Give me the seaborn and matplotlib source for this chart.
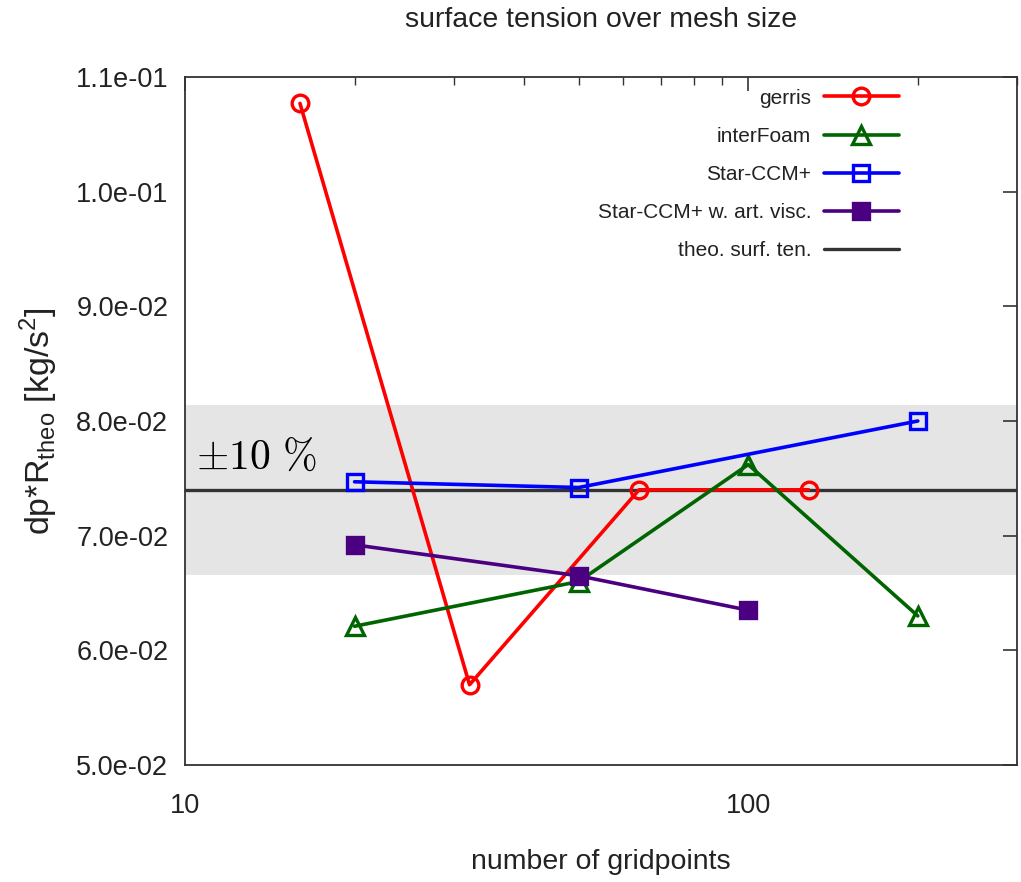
import matplotlib
matplotlib.use("Agg")
import matplotlib.pyplot as plt
import matplotlib.transforms as mtransforms
from matplotlib.ticker import FormatStrFormatter, LogLocator, NullFormatter, FixedLocator, FixedFormatter
import numpy as np
import pandas as pd
import seaborn as sns

# --- data -------------------------------------------------------------------
gerris_n = [16, 32, 64, 128]
gerris_v = [0.1077, 0.0570, 0.0740, 0.0740]

interfoam_n = [20, 50, 100, 200]
interfoam_v = [0.0621, 0.0660, 0.0762, 0.0630]

starccm_n = [20, 50, 200]
starccm_v = [0.0747, 0.0742, 0.0800]

starccm_visc_n = [20, 50, 100]
starccm_visc_v = [0.0692, 0.0665, 0.0635]

theo_value = 0.074
band_fraction = 0.10

series_names = ["gerris", "interFoam", "Star-CCM+", "Star-CCM+ w. art. visc."]
series_colors = ["#ff0000", "#006400", "#0000ff", "#4b0082"]
series_markers = ["o", "^", "s", "s"]
series_fill = ["none", "none", "none", "full"]

frames = []
for name, n, v in zip(series_names,
                      [gerris_n, interfoam_n, starccm_n, starccm_visc_n],
                      [gerris_v, interfoam_v, starccm_v, starccm_visc_v]):
    frames.append(pd.DataFrame({"n": n, "value": v, "series": name}))
df = pd.concat(frames, ignore_index=True)

# --- figure -----------------------------------------------------------------
sns.set_theme(style="white")
plt.rcParams["font.family"] = ["Liberation Sans", "DejaVu Sans"]
txt = "#222222"

fig = plt.figure(figsize=(10.21, 8.82), dpi=100)
ax = fig.add_axes([185 / 1021, 1 - 765 / 882, (1017 - 185) / 1021, (765 - 77) / 882])

ax.set_xscale("log")
ax.set_xlim(10, 300)
ax.set_ylim(0.05, 0.11)

# +/-10 % band around the theoretical value
ax.axhspan(theo_value * (1 - band_fraction), theo_value * (1 + band_fraction),
           color="#e5e5e5", zorder=0, lw=0)

for name, color, marker, fill in zip(series_names, series_colors, series_markers, series_fill):
    sub = df[df["series"] == name]
    sns.lineplot(data=sub, x="n", y="value", ax=ax, color=color, lw=2.6,
                 marker=marker, markersize=12 if marker != "^" else 13,
                 markerfacecolor=(color if fill == "full" else "none"),
                 markeredgecolor=color, markeredgewidth=2.4,
                 label=name, zorder=3, legend=False)

ax.axhline(theo_value, color="#333333", lw=2.4, zorder=2, label="theo. surf. ten.")

band_tf = mtransforms.blended_transform_factory(ax.transAxes, ax.transData)
ax.text(0.013, 0.0768, r"$\pm10\ \%$", fontsize=30, math_fontfamily="cm",
        color="black", va="center", ha="left", transform=band_tf)

# axes styling
for sp in ax.spines.values():
    sp.set_color("#333333")
    sp.set_linewidth(1.3)

ax.yaxis.set_major_locator(FixedLocator(np.arange(0.05, 0.1101, 0.01)))
ax.yaxis.set_major_formatter(FormatStrFormatter("%.1e"))
ax.xaxis.set_major_locator(FixedLocator([10, 100]))
ax.xaxis.set_major_formatter(FixedFormatter(["10", "100"]))
ax.xaxis.set_minor_locator(LogLocator(base=10, subs=np.arange(2, 10)))
ax.xaxis.set_minor_formatter(NullFormatter())

ax.tick_params(which="both", direction="in", top=True, right=True, color="#333333")
ax.tick_params(which="major", length=10, width=1.2)
ax.tick_params(which="minor", length=6, width=1.0)
ax.tick_params(axis="y", labelsize=19.5, pad=12, labelcolor=txt)
ax.tick_params(axis="x", labelsize=19.5, pad=20, labelcolor=txt)

ax.set_xlabel("number of gridpoints", fontsize=20.5, labelpad=22, color=txt)
ax.set_ylabel(r"dp*R$_{\mathregular{theo}}$ [kg/s$^{\mathregular{2}}$]", fontsize=24.5,
              labelpad=11, color=txt)
ax.set_title("surface tension over mesh size", fontsize=20.5, pad=36, color=txt)

leg = ax.legend(loc="upper right", frameon=False, markerfirst=False, fontsize=15,
                handlelength=3.6, handletextpad=0.6, labelspacing=0.92,
                borderaxespad=0.0, bbox_to_anchor=(0.868, 0.995))
for t in leg.get_texts():
    t.set_color(txt)

fig.savefig("out.png", dpi=100)
